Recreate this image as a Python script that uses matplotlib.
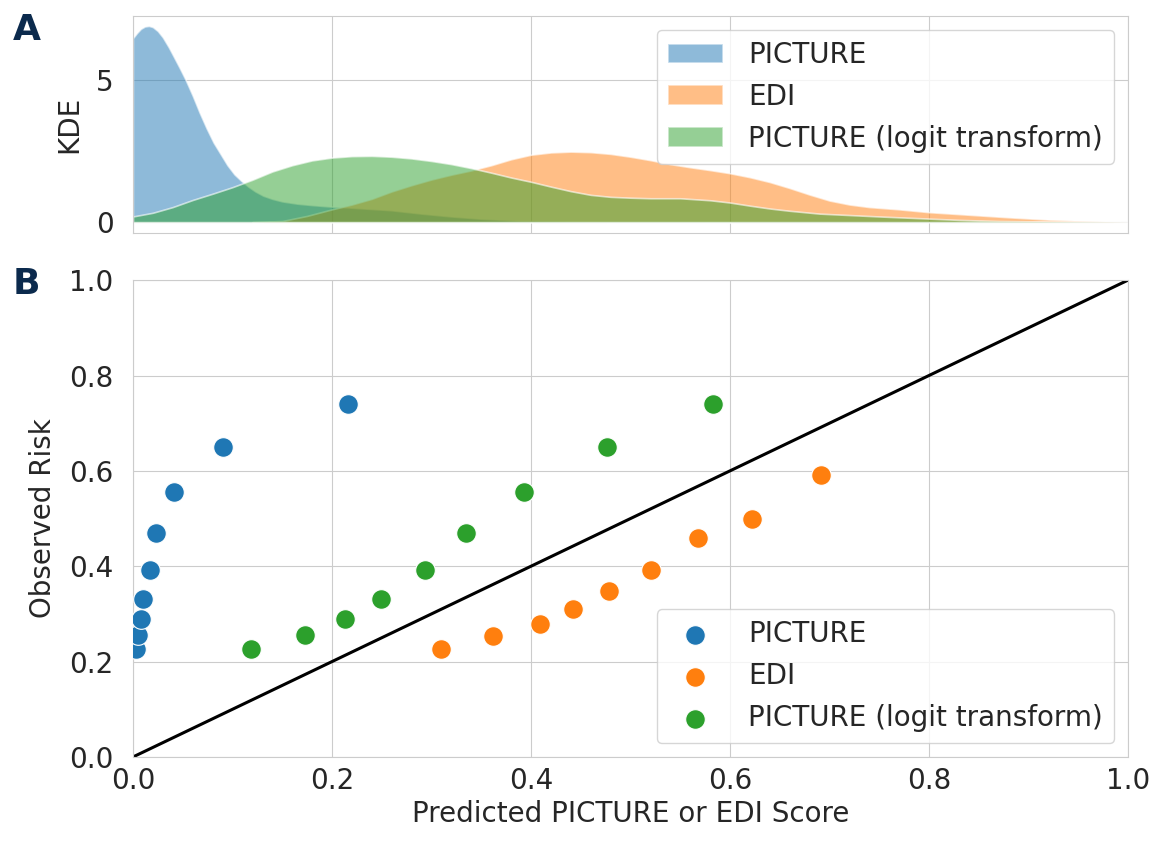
import matplotlib
matplotlib.use("Agg")
import matplotlib.pyplot as plt
import seaborn as sns
from matplotlib.colors import to_rgba

# --- panel A: KDE curves ---
picture_kde_x = [0.0, 0.004, 0.008, 0.012, 0.016, 0.020, 0.025, 0.030, 0.036, 0.041,
                 0.047, 0.053, 0.060, 0.067, 0.074, 0.081, 0.088, 0.095, 0.102, 0.109,
                 0.116, 0.123, 0.131, 0.140, 0.150, 0.165, 0.18, 0.198, 0.215, 0.232,
                 0.259, 0.29, 0.32, 0.35, 0.39, 0.45, 0.5, 0.6]
picture_kde_y = [6.47, 6.65, 6.8, 6.88, 6.9, 6.86, 6.72, 6.5, 6.15, 5.82,
                 5.42, 5.0, 4.45, 3.85, 3.3, 2.8, 2.4, 2.0, 1.68, 1.45,
                 1.25, 1.08, 0.93, 0.82, 0.73, 0.65, 0.6, 0.55, 0.52, 0.48,
                 0.42, 0.3, 0.2, 0.12, 0.05, 0.02, 0.01, 0.0]

edi_kde_x = [0.12, 0.15, 0.175, 0.2, 0.22, 0.24, 0.26, 0.28, 0.30, 0.32,
             0.34, 0.36, 0.38, 0.40, 0.42, 0.44, 0.46, 0.48, 0.50, 0.52,
             0.54, 0.56, 0.58, 0.60, 0.62, 0.64, 0.66, 0.68, 0.70, 0.72,
             0.74, 0.77, 0.80, 0.84, 0.88, 0.92, 0.96, 1.0]
edi_kde_y = [0.0, 0.04, 0.22, 0.45, 0.62, 0.82, 1.08, 1.3, 1.5, 1.67,
             1.82, 2.0, 2.21, 2.37, 2.45, 2.48, 2.46, 2.4, 2.3, 2.18,
             2.04, 1.93, 1.83, 1.72, 1.58, 1.41, 1.2, 0.97, 0.76, 0.62,
             0.53, 0.45, 0.35, 0.26, 0.17, 0.09, 0.04, 0.0]

logit_kde_x = [0.0, 0.02, 0.04, 0.06, 0.08, 0.10, 0.12, 0.14, 0.16, 0.18,
               0.20, 0.22, 0.24, 0.26, 0.28, 0.30, 0.32, 0.34, 0.36, 0.38,
               0.40, 0.42, 0.44, 0.46, 0.48, 0.50, 0.52, 0.55, 0.58, 0.60,
               0.62, 0.64, 0.66, 0.69, 0.72, 0.75, 0.79, 0.83, 0.87, 0.92, 1.0]
logit_kde_y = [0.2, 0.33, 0.53, 0.78, 1.0, 1.23, 1.49, 1.78, 2.0, 2.17,
               2.27, 2.32, 2.33, 2.3, 2.24, 2.15, 2.04, 1.9, 1.74, 1.57,
               1.42, 1.25, 1.09, 0.96, 0.89, 0.86, 0.84, 0.84, 0.77, 0.69,
               0.58, 0.48, 0.4, 0.3, 0.25, 0.2, 0.14, 0.08, 0.04, 0.02, 0.0]

# --- panel B: calibration points ---
observed_risk = [0.226, 0.256, 0.289, 0.331, 0.392, 0.470, 0.556, 0.650, 0.740]
picture_score = [0.003, 0.005, 0.0076, 0.0106, 0.0167, 0.023, 0.041, 0.091, 0.216]
logit_score = [0.119, 0.173, 0.213, 0.249, 0.294, 0.335, 0.393, 0.476, 0.583]
edi_score = [0.310, 0.362, 0.409, 0.442, 0.478, 0.521, 0.568, 0.622, 0.691]
edi_risk = [0.226, 0.253, 0.279, 0.311, 0.349, 0.392, 0.459, 0.500, 0.591]
diag = [0, 1]

labels = ["PICTURE", "EDI", "PICTURE (logit transform)"]
colors = ["#1f77b4", "#ff7f0e", "#2ca02c"]

sns.set_style("whitegrid")
plt.rcParams["font.family"] = ["DejaVu Sans"]
fs = 20

fig = plt.figure(figsize=(11.53, 8.41), dpi=100)
ax1 = fig.add_axes([0.1153, 0.7235, 0.863, 0.2575])
ax2 = fig.add_axes([0.1153, 0.0999, 0.863, 0.567], sharex=ax1)

kdes = [(picture_kde_x, picture_kde_y), (edi_kde_x, edi_kde_y), (logit_kde_x, logit_kde_y)]
for (kx, ky), c, lab in zip(kdes, colors, labels):
    ax1.fill_between(kx, 0, ky, facecolor=to_rgba(c, 0.5),
                     edgecolor=(1, 1, 1, 0.6), linewidth=1.2, label=lab)
ax1.set_ylim(-0.365, 7.25)
ax1.set_yticks([0, 5])
ax1.set_ylabel("KDE", fontsize=fs, labelpad=9)
ax1.tick_params(labelbottom=False, labelsize=fs)
ax1.tick_params(axis="y", pad=10.5)
ax1.legend(loc="upper right", fontsize=fs, handlelength=2.0, handletextpad=0.9,
           labelspacing=0.5, borderaxespad=0.5, framealpha=0.8, borderpad=0.4)

ax2.plot(diag, diag, color="black", lw=2.2)
for xs, ys, c, lab in zip([picture_score, edi_score, logit_score],
                          [observed_risk, edi_risk, observed_risk], colors, labels):
    ax2.scatter(xs, ys, s=200, color=c, edgecolors="white", linewidths=0.8,
                label=lab, zorder=3)
ax2.set_xlim(0, 1)
ax2.set_ylim(0, 1)
ax2.set_xticks([0, 0.2, 0.4, 0.6, 0.8, 1.0])
ax2.set_yticks([0, 0.2, 0.4, 0.6, 0.8, 1.0])
ax2.set_xlabel("Predicted PICTURE or EDI Score", fontsize=fs)
ax2.set_ylabel("Observed Risk", fontsize=fs, labelpad=8.5)
ax2.tick_params(labelsize=fs)
ax2.tick_params(axis="y", pad=10.5)
ax2.legend(loc="lower right", fontsize=fs, handlelength=2.0, handletextpad=0.9,
           labelspacing=0.5, borderaxespad=0.5, framealpha=0.8, borderpad=0.4)

fig.text(0.011, 0.952, "A", fontsize=26, fontweight="bold", color="#0b2a4d")
fig.text(0.011, 0.651, "B", fontsize=26, fontweight="bold", color="#0b2a4d")

fig.savefig("out.png", dpi=100)
